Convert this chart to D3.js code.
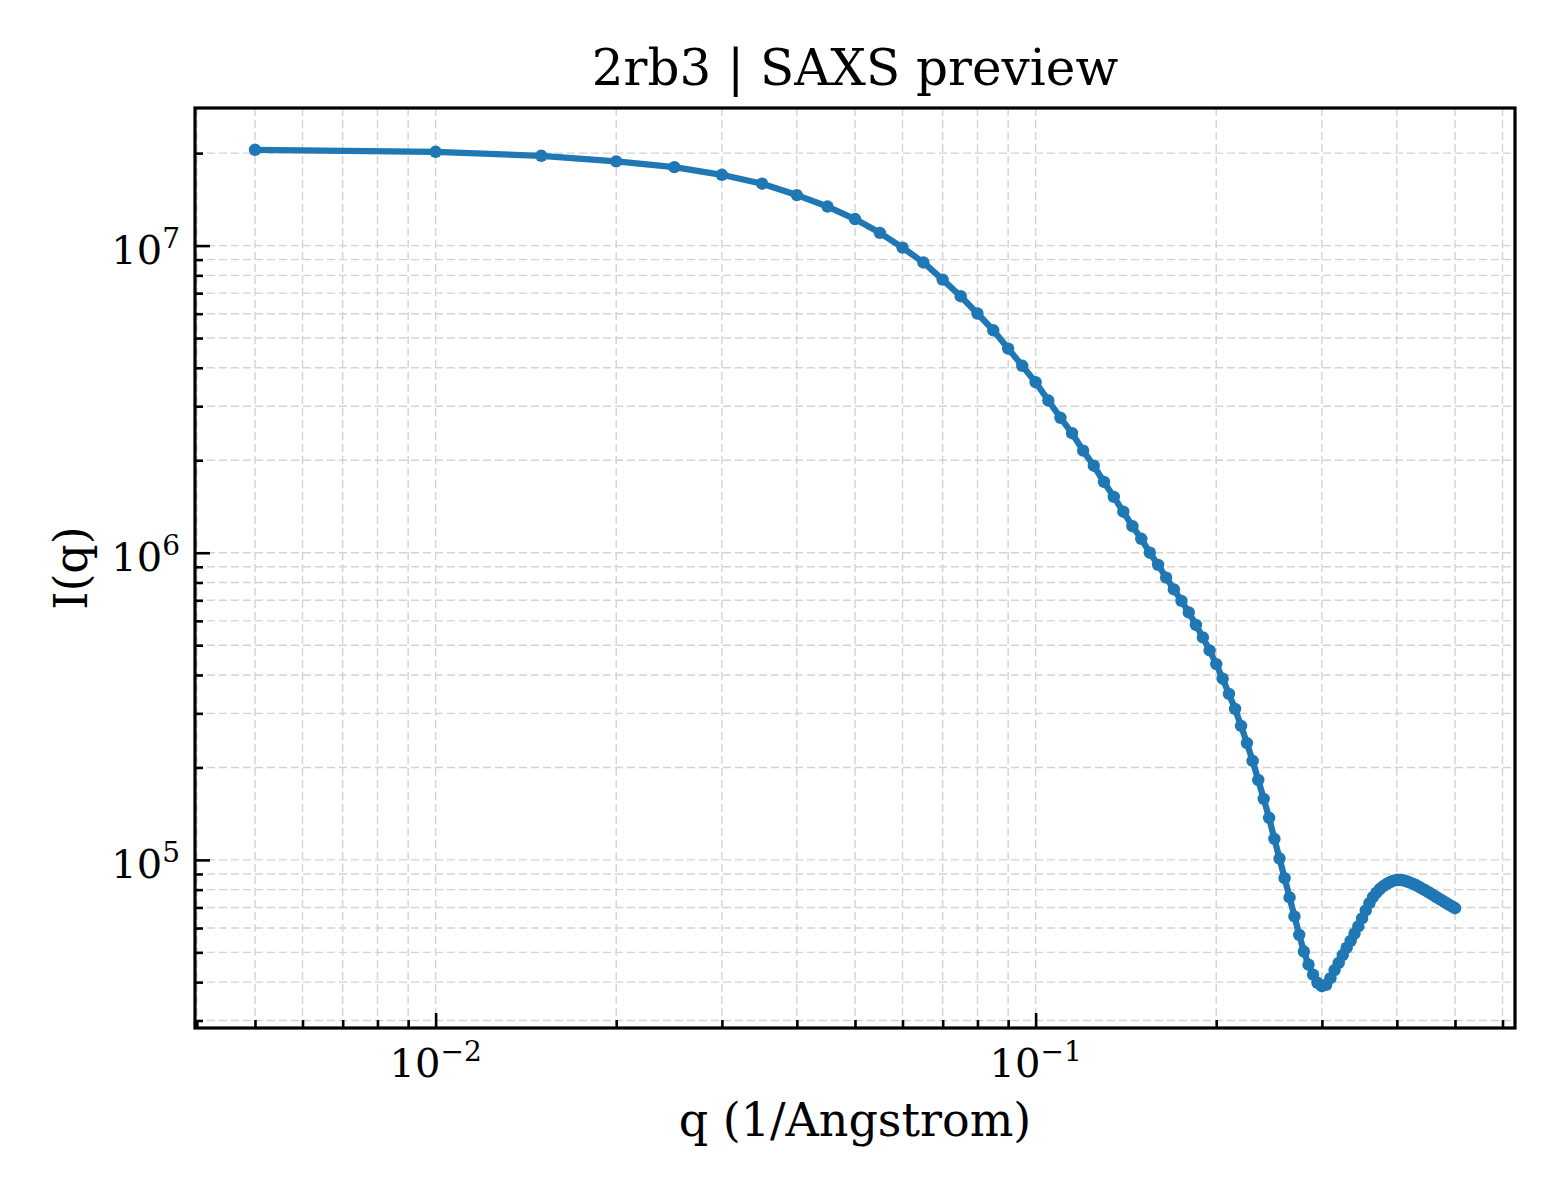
<!DOCTYPE html>
<html>
<head>
<meta charset="utf-8">
<script src="https://cdn.jsdelivr.net/npm/d3@7"></script>
<style>
  body { margin: 0; background: #fff; }
  text { font-family: "DejaVu Serif", serif; fill: #000; }
</style>
</head>
<body>
<div id="chart"></div>
<script>

// scattering vector q (1/Angstrom)
var q = [
  0.005, 0.010, 0.015, 0.020, 0.025, 0.030, 0.035, 0.040, 0.045, 0.050,
  0.055, 0.060, 0.065, 0.070, 0.075, 0.080, 0.085, 0.090, 0.095, 0.100,
  0.105, 0.110, 0.115, 0.120, 0.125, 0.130, 0.135, 0.140, 0.145, 0.150,
  0.155, 0.160, 0.165, 0.170, 0.175, 0.180, 0.185, 0.190, 0.195, 0.200,
  0.205, 0.210, 0.215, 0.220, 0.225, 0.230, 0.235, 0.240, 0.245, 0.250,
  0.255, 0.260, 0.265, 0.270, 0.275, 0.280, 0.285, 0.290, 0.295, 0.300,
  0.305, 0.310, 0.315, 0.320, 0.325, 0.330, 0.335, 0.340, 0.345, 0.350,
  0.355, 0.360, 0.365, 0.370, 0.375, 0.380, 0.385, 0.390, 0.395, 0.400,
  0.405, 0.410, 0.415, 0.420, 0.425, 0.430, 0.435, 0.440, 0.445, 0.450,
  0.455, 0.460, 0.465, 0.470, 0.475, 0.480, 0.485, 0.490, 0.495, 0.500
];

// intensity I(q)
var intensity = [
  2.05e7, 2.02e7, 1.96e7, 1.88e7, 1.80e7, 1.70e7, 1.59e7, 1.46e7, 1.34e7, 1.22e7,
  1.10e7, 9.85e6, 8.81e6, 7.75e6, 6.84e6, 6.01e6, 5.30e6, 4.62e6, 4.06e6, 3.59e6,
  3.13e6, 2.75e6, 2.45e6, 2.15e6, 1.92e6, 1.70e6, 1.52e6, 1.36e6, 1.22e6, 1.11e6,
  1.00e6, 9.13e5, 8.30e5, 7.60e5, 6.97e5, 6.39e5, 5.82e5, 5.30e5, 4.81e5, 4.34e5,
  3.89e5, 3.47e5, 3.10e5, 2.73e5, 2.40e5, 2.10e5, 1.82e5, 1.58e5, 1.37e5, 1.17e5,
  1.01e5, 8.72e4, 7.55e4, 6.55e4, 5.70e4, 5.03e4, 4.56e4, 4.23e4, 3.98e4, 3.88e4,
  3.92e4, 4.12e4, 4.38e4, 4.62e4, 4.90e4, 5.18e4, 5.45e4, 5.75e4, 6.07e4, 6.45e4,
  6.85e4, 7.23e4, 7.57e4, 7.82e4, 8.05e4, 8.22e4, 8.36e4, 8.47e4, 8.56e4, 8.60e4,
  8.60e4, 8.58e4, 8.52e4, 8.45e4, 8.37e4, 8.28e4, 8.18e4, 8.08e4, 7.98e4, 7.88e4,
  7.78e4, 7.68e4, 7.58e4, 7.48e4, 7.39e4, 7.30e4, 7.21e4, 7.12e4, 7.04e4, 6.96e4
];

var title = "2rb3 | SAXS preview";
var x_label = "q (1/Angstrom)";
var y_label = "I(q)";

var margin = { left: 195, right: 45, top: 108, bottom: 172 };
var width = 1560 - margin.left - margin.right;
var height = 1200 - margin.top - margin.bottom;

var data = q.map(function(d, i) { return { q: d, I: intensity[i] }; });

// matplotlib-style 5% padding in log space
function padded(ext) {
  var lo = Math.log10(ext[0]), hi = Math.log10(ext[1]);
  var m = (hi - lo) * 0.05;
  return [Math.pow(10, lo - m), Math.pow(10, hi + m)];
}

var x_scale = d3.scaleLog()
    .domain(padded(d3.extent(q)))
    .range([0, width]);

var y_scale = d3.scaleLog()
    .domain(padded(d3.extent(intensity)))
    .range([height, 0]);

var svg = d3.select("#chart").append("svg")
    .attr("width", 1560)
    .attr("height", 1200);

svg.append("rect")
    .attr("width", 1560).attr("height", 1200).attr("fill", "#fff");

var g = svg.append("g")
    .attr("transform", "translate(" + margin.left + "," + margin.top + ")");

function isMajor(v) {
  return Math.abs(Math.log10(v) - Math.round(Math.log10(v))) < 1e-9;
}

var x_ticks = x_scale.ticks();
var y_ticks = y_scale.ticks();

// grid (major and minor, dashed)
g.append("g").selectAll("line")
  .data(x_ticks)
  .enter().append("line")
    .attr("x1", function(d) { return x_scale(d); })
    .attr("x2", function(d) { return x_scale(d); })
    .attr("y1", 0).attr("y2", height)
    .attr("stroke", "#d3d3d3").attr("stroke-width", 1.4)
    .attr("stroke-dasharray", "8,4");

g.append("g").selectAll("line")
  .data(y_ticks)
  .enter().append("line")
    .attr("y1", function(d) { return y_scale(d); })
    .attr("y2", function(d) { return y_scale(d); })
    .attr("x1", 0).attr("x2", width)
    .attr("stroke", "#d3d3d3").attr("stroke-width", 1.4)
    .attr("stroke-dasharray", "8,4");

// axes, ticks pointing inward
function drawAxis(axisFn, scale, values, size, transform) {
  var ax = g.append("g")
      .attr("transform", transform)
      .call(axisFn(scale).tickValues(values).tickSize(-size).tickFormat(""));
  ax.select(".domain").remove();
  ax.selectAll("line").attr("stroke", "#000").attr("stroke-width", 2.6);
  return ax;
}

drawAxis(d3.axisBottom, x_scale, x_ticks.filter(isMajor), 15, "translate(0," + height + ")");
drawAxis(d3.axisBottom, x_scale, x_ticks.filter(function(d) { return !isMajor(d); }), 8, "translate(0," + height + ")");
drawAxis(d3.axisLeft, y_scale, y_ticks.filter(isMajor), 15, "translate(0,0)");
drawAxis(d3.axisLeft, y_scale, y_ticks.filter(function(d) { return !isMajor(d); }), 8, "translate(0,0)");

// tick labels as 10^n
function powLabel(sel) {
  sel.append("tspan").text("10");
  sel.append("tspan")
    .attr("dy", -16)
    .attr("font-size", 28)
    .text(function(d) { return String(Math.round(Math.log10(d))).replace("-", "\u2212"); });
}

g.append("g").selectAll("text")
  .data(x_ticks.filter(isMajor))
  .enter().append("text")
    .attr("x", function(d) { return x_scale(d); })
    .attr("y", height + 49)
    .attr("text-anchor", "middle")
    .attr("font-size", 40)
    .call(powLabel);

g.append("g").selectAll("text")
  .data(y_ticks.filter(isMajor))
  .enter().append("text")
    .attr("x", -15)
    .attr("y", function(d) { return y_scale(d) + 18; })
    .attr("text-anchor", "end")
    .attr("font-size", 40)
    .call(powLabel);

// curve
var line = d3.line()
    .x(function(d) { return x_scale(d.q); })
    .y(function(d) { return y_scale(d.I); });

g.append("path")
    .datum(data)
    .attr("d", line)
    .attr("fill", "none")
    .attr("stroke", "#1f77b4")
    .attr("stroke-width", 6.3)
    .attr("stroke-linejoin", "round");

g.selectAll(".sample")
  .data(data)
  .enter().append("circle")
    .attr("class", "sample")
    .attr("cx", function(d) { return x_scale(d.q); })
    .attr("cy", function(d) { return y_scale(d.I); })
    .attr("r", 6.2)
    .attr("fill", "#1f77b4");

// frame
g.append("rect")
    .attr("width", width).attr("height", height)
    .attr("fill", "none").attr("stroke", "#000").attr("stroke-width", 3.2);

// titles
svg.append("text")
    .attr("x", margin.left + width / 2).attr("y", 85)
    .attr("text-anchor", "middle").attr("font-size", 50)
    .text(title);

svg.append("text")
    .attr("x", margin.left + width / 2).attr("y", 1136)
    .attr("text-anchor", "middle").attr("font-size", 46)
    .text(x_label);

svg.append("text")
    .attr("transform", "translate(87," + (margin.top + height / 2) + ") rotate(-90)")
    .attr("text-anchor", "middle").attr("font-size", 46)
    .text(y_label);

</script>
</body>
</html>
